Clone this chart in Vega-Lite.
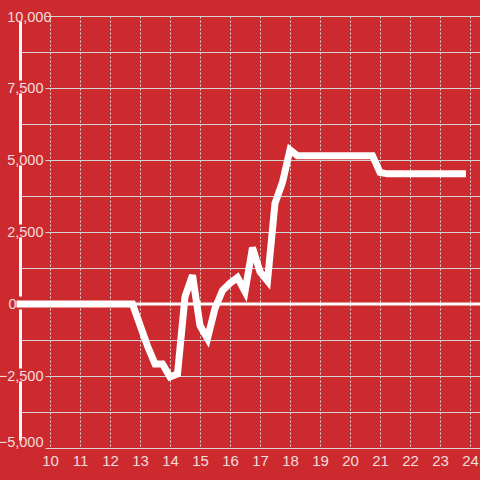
{
  "$schema": "https://vega.github.io/schema/vega-lite/v6.json",
  "width": 460,
  "height": 432,
  "autosize": {"type": "none"},
  "padding": {"left": 20, "top": 16, "right": 0, "bottom": 32},
  "background": "#cc2a2f",
  "config": {
    "view": {"stroke": null},
    "axis": {"labelFont": "Liberation Sans", "titleFont": "Liberation Sans"}
  },
  "datasets": {
    "zero": [{"level": 0}],
    "series": [
      {"hour": 9.0, "value": 0}, {"hour": 9.25, "value": 0}, {"hour": 9.5, "value": 0}, {"hour": 9.75, "value": 0},
      {"hour": 10.0, "value": 0}, {"hour": 10.25, "value": 0}, {"hour": 10.5, "value": 0}, {"hour": 10.75, "value": 0},
      {"hour": 11.0, "value": 0}, {"hour": 11.25, "value": 0}, {"hour": 11.5, "value": 0}, {"hour": 11.75, "value": 0},
      {"hour": 12.0, "value": 0}, {"hour": 12.25, "value": 0}, {"hour": 12.5, "value": 0}, {"hour": 12.75, "value": 0},
      {"hour": 13.0, "value": -730}, {"hour": 13.25, "value": -1460}, {"hour": 13.5, "value": -2080}, {"hour": 13.75, "value": -2080},
      {"hour": 14.0, "value": -2530}, {"hour": 14.25, "value": -2430}, {"hour": 14.5, "value": 250}, {"hour": 14.75, "value": 1000},
      {"hour": 15.0, "value": -750}, {"hour": 15.25, "value": -1200}, {"hour": 15.5, "value": -150}, {"hour": 15.75, "value": 470},
      {"hour": 16.0, "value": 720}, {"hour": 16.25, "value": 920}, {"hour": 16.5, "value": 430}, {"hour": 16.75, "value": 1960},
      {"hour": 17.0, "value": 1120}, {"hour": 17.25, "value": 800}, {"hour": 17.5, "value": 3500}, {"hour": 17.75, "value": 4230},
      {"hour": 18.0, "value": 5350}, {"hour": 18.25, "value": 5150}, {"hour": 18.5, "value": 5150}, {"hour": 18.75, "value": 5150},
      {"hour": 19.0, "value": 5150}, {"hour": 19.25, "value": 5150}, {"hour": 19.5, "value": 5150}, {"hour": 19.75, "value": 5150},
      {"hour": 20.0, "value": 5150}, {"hour": 20.25, "value": 5150}, {"hour": 20.5, "value": 5150}, {"hour": 20.75, "value": 5150},
      {"hour": 21.0, "value": 4570}, {"hour": 21.25, "value": 4520}, {"hour": 21.5, "value": 4520}, {"hour": 21.75, "value": 4520},
      {"hour": 22.0, "value": 4520}, {"hour": 22.25, "value": 4520}, {"hour": 22.5, "value": 4520}, {"hour": 22.75, "value": 4520},
      {"hour": 23.0, "value": 4520}, {"hour": 23.25, "value": 4520}, {"hour": 23.5, "value": 4520}, {"hour": 23.75, "value": 4520}
    ]
  },
  "resolve": {"axis": {"y": "independent"}},
  "layer": [
    {
      "data": {"name": "zero"},
      "mark": {"type": "rule", "color": "#ffffff", "strokeWidth": 3},
      "encoding": {
        "y": {
          "field": "level",
          "type": "quantitative",
          "scale": {"domain": [-5000, 10000], "nice": false, "zero": false},
          "axis": {
            "orient": "left",
            "title": null,
            "values": [-3750, -1250, 1250, 3750, 6250, 8750],
            "labels": false,
            "ticks": false,
            "grid": true,
            "gridColor": "#d4d4d4",
            "gridWidth": 1,
            "gridOpacity": 1,
            "domain": true,
            "domainColor": "#ffffff",
            "domainWidth": 3,
            "domainDash": [59, 13],
            "domainDashOffset": 64
          }
        }
      }
    },
    {
      "data": {"name": "series"},
      "mark": {"type": "line", "color": "#ffffff", "strokeWidth": 7, "strokeCap": "square", "strokeJoin": "miter"},
      "encoding": {
        "x": {
          "field": "hour",
          "type": "quantitative",
          "scale": {"domain": [9, 24.3333], "nice": false, "zero": false},
          "axis": {
            "title": null,
            "values": [10, 11, 12, 13, 14, 15, 16, 17, 18, 19, 20, 21, 22, 23, 24],
            "domain": false,
            "ticks": false,
            "grid": true,
            "gridColor": "#dcdcdc",
            "gridDash": [2, 2],
            "gridWidth": 1,
            "gridOpacity": 1,
            "labelColor": "#f3dcdc",
            "labelFontSize": 15,
            "labelPadding": 5
          }
        },
        "y": {
          "field": "value",
          "type": "quantitative",
          "scale": {"domain": [-5000, 10000], "nice": false, "zero": false},
          "axis": {
            "orient": "right",
            "offset": -435,
            "title": null,
            "values": [-5000, -2500, 0, 2500, 5000, 7500, 10000],
            "format": ",.0f",
            "grid": false,
            "domain": false,
            "ticks": true,
            "tickSize": 435,
            "tickColor": "#d4d4d4",
            "tickWidth": 1,
            "labelPadding": {
              "condition": [
                {"test": "datum.value == 0", "value": -464},
                {"test": "datum.value == 10000", "value": -429}
              ],
              "value": -437
            },
            "labelOffset": {
              "condition": [
                {"test": "datum.value == -5000", "value": -6},
                {"test": "datum.value == 10000", "value": 1.5}
              ],
              "value": 0
            },
            "labelAlign": "right",
            "labelBaseline": "middle",
            "labelColor": "#f3dcdc",
            "labelFontSize": 14.5
          }
        }
      }
    }
  ]
}
